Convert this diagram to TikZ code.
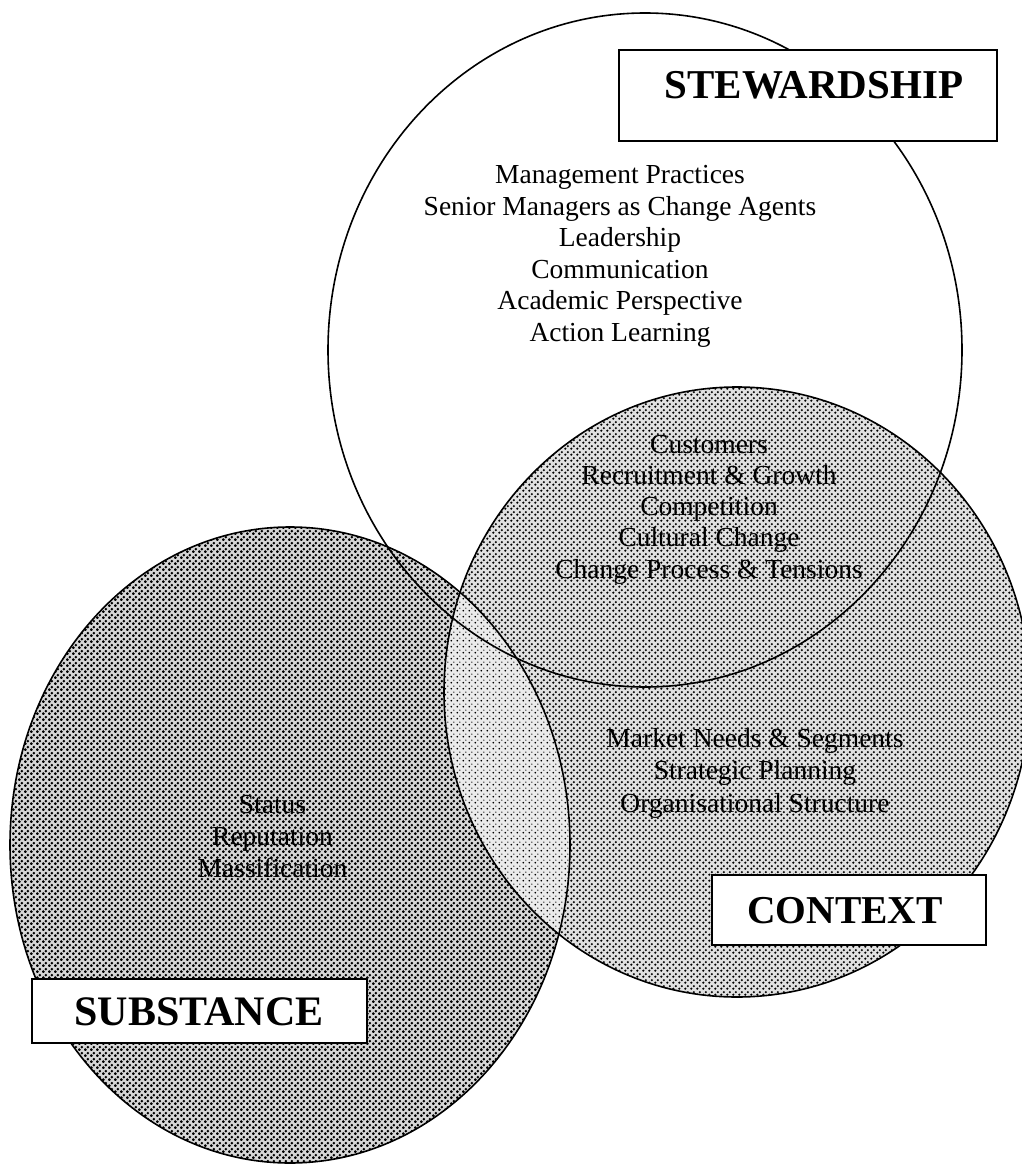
\documentclass[tikz,border=0pt]{standalone}
\usepackage{fontspec}
\setmainfont{Liberation Serif}
\usetikzlibrary{patterns.meta}

% halftone screens of different density
\tikzdeclarepattern{
  name=screen dense, type=uncolored,
  bottom left={(0pt,0pt)}, top right={(6pt,6pt)}, tile size={(6pt,6pt)},
  code={\fill (1.5pt,1.5pt) circle (1.8pt); \fill (4.5pt,4.5pt) circle (1.6pt);}
}
\tikzdeclarepattern{
  name=screen medium, type=uncolored,
  bottom left={(0pt,0pt)}, top right={(6pt,6pt)}, tile size={(6pt,6pt)},
  code={\fill (1.5pt,1.5pt) circle (1.45pt); \fill (4.5pt,4.5pt) circle (1.3pt);}
}
\tikzdeclarepattern{
  name=screen light, type=uncolored,
  bottom left={(0pt,0pt)}, top right={(6pt,6pt)}, tile size={(6pt,6pt)},
  code={\fill (1.5pt,1.5pt) circle (1.1pt); \fill (4.5pt,4.5pt) circle (0.8pt);}
}

\begin{document}
\begin{tikzpicture}[x=1pt,y=-1pt,
  outline/.style={line width=1.6pt},
  labelbox/.style={draw, line width=1.8pt, fill=white, inner sep=0pt, anchor=north west},
  itemtext/.style={anchor=base, inner sep=0pt, font=\fontsize{27.5}{31}\selectfont},
  settitle/.style={anchor=base, inner sep=0pt, font=\bfseries\fontsize{41}{44}\selectfont},
]
\useasboundingbox (0,0) rectangle (1021,1164);

% ellipse geometry
\def\stewpath{(645,350) ellipse [x radius=317, y radius=337]}
\def\contpath{(737,692) ellipse [x radius=293, y radius=305]}
\def\subspath{(290,845) ellipse [x radius=280, y radius=318]}

% shaded sets: a light tint under a dot screen
\fill[black!16] \subspath;
\fill[pattern=screen dense] \subspath;
\fill[black!12] \contpath;
\fill[pattern=screen medium] \contpath;
\begin{scope}
  \clip \subspath;
  \fill[white] \contpath;
  \fill[black!8] \contpath;
  \fill[pattern=screen light] \contpath;
\end{scope}

% outlines
\draw[outline] \subspath;
\draw[outline] \contpath;
\draw[outline] \stewpath;

% stewardship items
\foreach \t [count=\i] in {Management Practices, Senior Managers as Change Agents,
    Leadership, Communication, Academic Perspective, Action Learning}
  \node[itemtext] (stew\i) at (620, 183.5+31.6*\i-31.6) {\t};

% stewardship/context overlap items
\foreach \t [count=\i] in {Customers, Recruitment \& Growth, Competition,
    Cultural Change, Change Process \& Tensions}
  \node[itemtext] (over\i) at (709, 453+31.25*\i-31.25) {\t};

% context items
\foreach \t [count=\i] in {Market Needs \& Segments, Strategic Planning,
    Organisational Structure}
  \node[itemtext] (cont\i) at (755, 747+32.5*\i-32.5) {\t};

% substance items
\foreach \t [count=\i] in {Status, Reputation, Massification}
  \node[itemtext] (subs\i) at (272.5, 813+32*\i-32) {\t};

% set labels
\node[labelbox, minimum width=378, minimum height=91] (stewbox) at (618,49) {};
\node[settitle] (stewlabel) at (814,98) {STEWARDSHIP};

\node[labelbox, minimum width=274, minimum height=70] (contbox) at (711,874) {};
\node[settitle, font=\bfseries\fontsize{39.5}{44}\selectfont] (contlabel) at (845,923) {CONTEXT};

\node[labelbox, minimum width=335, minimum height=64] (subsbox) at (31,978) {};
\node[settitle, font=\bfseries\fontsize{42}{44}\selectfont] (subslabel) at (199,1025) {SUBSTANCE};
\end{tikzpicture}
\end{document}
